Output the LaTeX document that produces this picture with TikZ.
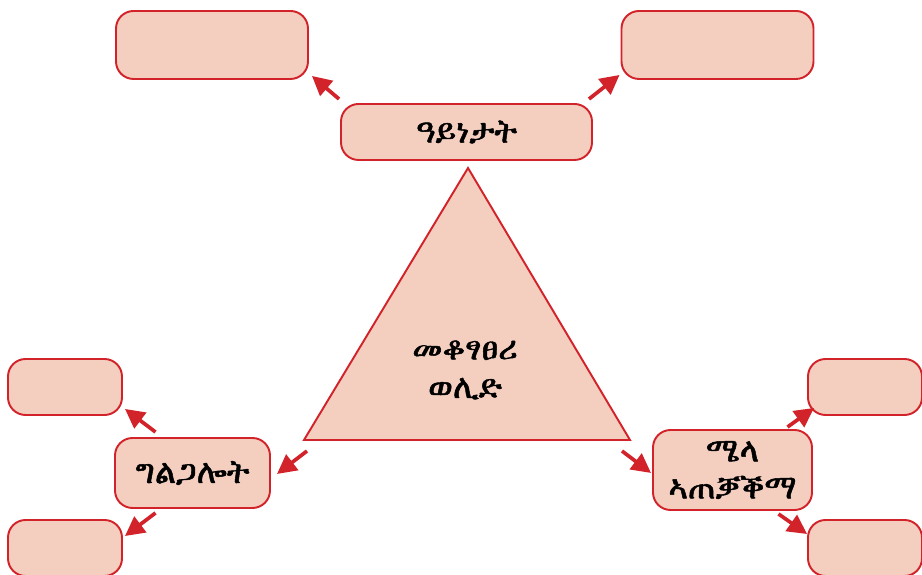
\documentclass[tikz,border=0pt]{standalone}
\usepackage{fontspec}
\usepackage{tikz}
\usetikzlibrary{arrows.meta,calc}
\newfontfamily\ethfont[FakeBold=1.5]{FreeSerif}
\definecolor{boxred}{HTML}{D2232A}
\definecolor{boxfill}{HTML}{F4CFC0}

\begin{document}
\begin{tikzpicture}[
    box/.style={rectangle, draw=boxred, line width=1.1pt, rounded corners=10pt, fill=boxfill, font=\ethfont\fontsize{19}{21}\selectfont, align=center, inner sep=0pt},
    smallbox/.style={box, minimum width=2.28cm, minimum height=1.12cm},
    arrow/.style={-{Triangle[length=11pt, width=11pt]}, line width=2.1pt, draw=boxred}
]
\useasboundingbox (0,0) rectangle (18.44,11.5);

% Top
\node[box, minimum width=5.02cm, minimum height=1.12cm] (types) at (9.33,8.86) {ዓይነታት};
\node[box, minimum width=3.84cm, minimum height=1.36cm] (tl) at (4.24,10.6) {};
\node[box, minimum width=3.84cm, minimum height=1.36cm] (tr) at (14.35,10.6) {};

% Triangle
\coordinate (tri-t) at (9.36,8.14);
\coordinate (tri-l) at (6.08,2.70);
\coordinate (tri-r) at (12.6,2.70);
\draw[draw=boxred, line width=1.1pt, fill=boxfill] (tri-t) -- (tri-l) -- (tri-r) -- cycle;
\node[font=\ethfont\fontsize{19}{22}\selectfont, align=center] (method) at (9.3,4.1) {መቆፃፀሪ\\ወሊድ};

% Left
\node[box, minimum width=3.1cm, minimum height=1.4cm] (use) at (3.85,2.04) {ግልጋሎት};
\node[smallbox] (lt) at (1.3,3.76) {};
\node[smallbox] (lb) at (1.3,0.54) {};

% Right
\node[box, minimum width=3.18cm, minimum height=1.6cm] (how) at (14.65,2.1) {ሜላ\\ኣጠቓቕማ};
\node[smallbox] (rt) at (17.3,3.76) {};
\node[smallbox] (rb) at (17.3,0.54) {};

% Arrows
\draw[arrow] ([shift={(-0.02,0.08)}]types.north west) -- ([shift={(0.06,0.08)}]tl.south east);
\draw[arrow] ([shift={(-0.08,0.08)}]types.north east) -- ([shift={(-0.02,0.1)}]tr.south west);
\draw[arrow] ([shift={(0.06,-0.22)}]tri-l) -- ([shift={(0.12,-0.02)}]use.east);
\draw[arrow] ([shift={(-0.16,-0.22)}]tri-r) -- ([shift={(-0.02,-0.06)}]how.west);
\draw[arrow] ([shift={(-0.74,0.1)}]use.north) -- ([shift={(0.04,0.14)}]lt.south east);
\draw[arrow] ([shift={(-0.74,-0.08)}]use.south) -- ([shift={(0.04,-0.34)}]lb.north east);
\draw[arrow] ([shift={(1.1,0.04)}]how.north) -- ([shift={(0.14,0.16)}]rt.south west);
\draw[arrow] ([shift={(0.92,-0.06)}]how.south) -- ([shift={(0,-0.3)}]rb.north west);

\end{tikzpicture}
\end{document}
